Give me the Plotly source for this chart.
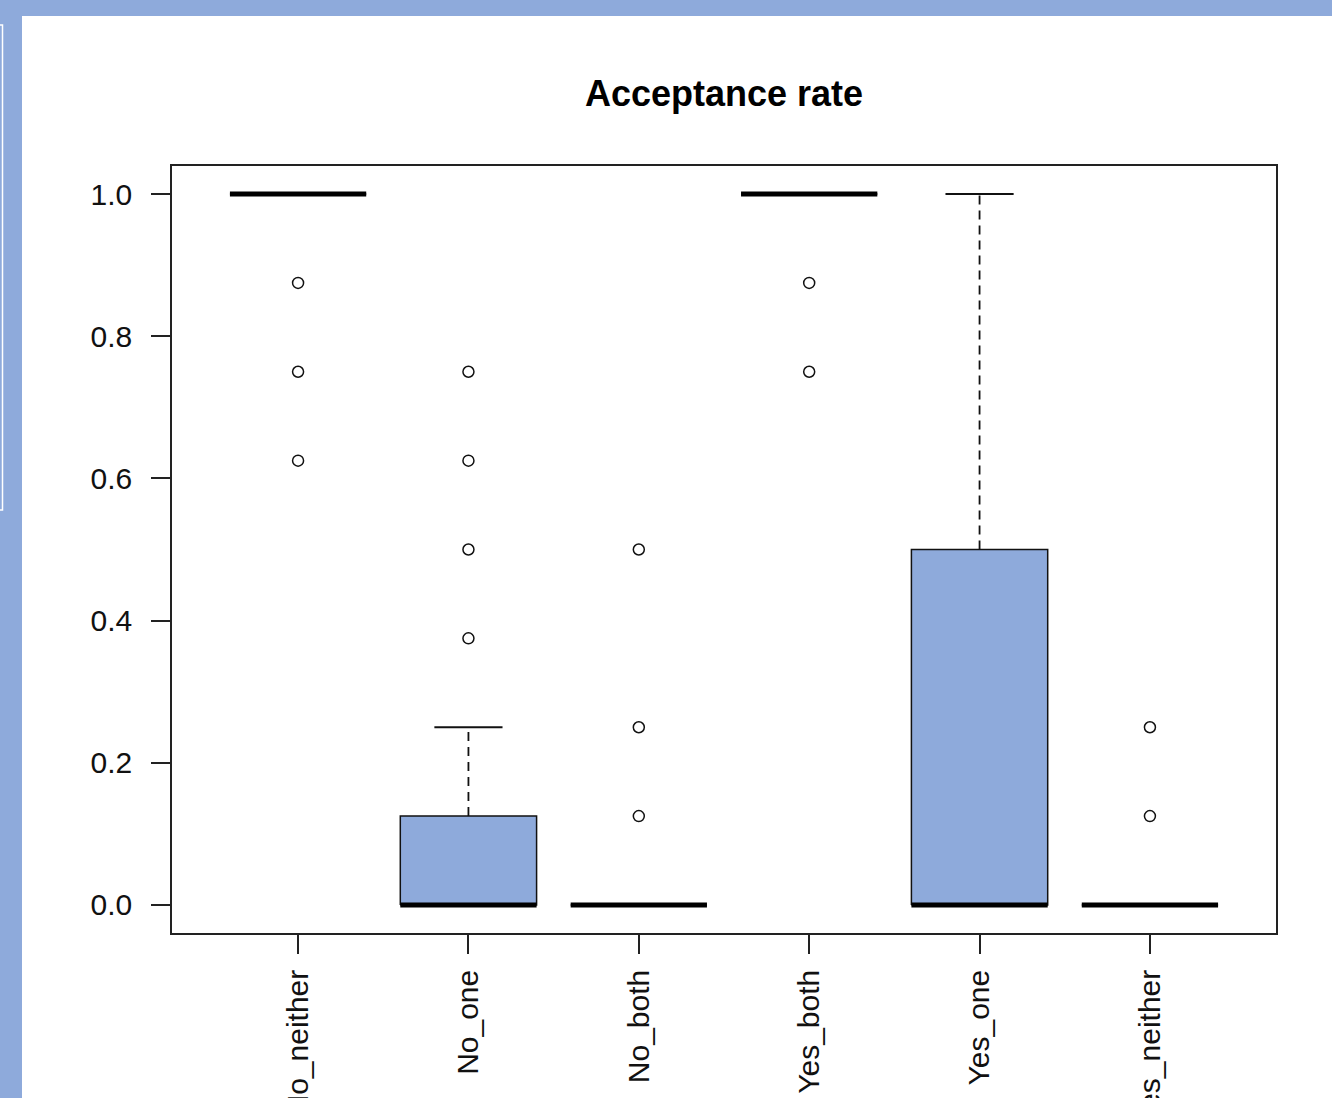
import plotly.graph_objects as go

# Acceptance rate by group: box statistics (R-style boxplot)
categories = ["No_neither", "No_one", "No_both", "Yes_both", "Yes_one", "Yes_neither"]
q1 = [1.0, 0.0, 0.0, 1.0, 0.0, 0.0]
medians = [1.0, 0.0, 0.0, 1.0, 0.0, 0.0]
q3 = [1.0, 0.125, 0.0, 1.0, 0.5, 0.0]
lower_whisker = [1.0, 0.0, 0.0, 1.0, 0.0, 0.0]
upper_whisker = [1.0, 0.25, 0.0, 1.0, 1.0, 0.0]
outliers = [
    [0.875, 0.75, 0.625],
    [0.75, 0.625, 0.5, 0.375],
    [0.5, 0.25, 0.125],
    [0.875, 0.75],
    [],
    [0.25, 0.125],
]
y_ticks = [0.0, 0.2, 0.4, 0.6, 0.8, 1.0]

BOX_FILL = "#8eaadb"
FONT = "Liberation Sans, Arial, sans-serif"
BOX_HALF = 0.4
CAP_HALF = 0.2

positions = list(range(1, len(categories) + 1))

fig = go.Figure()

# Boxes (q1..q3)
for p, lo, hi in zip(positions, q1, q3):
    fig.add_trace(go.Scatter(
        x=[p - BOX_HALF, p + BOX_HALF, p + BOX_HALF, p - BOX_HALF, p - BOX_HALF],
        y=[lo, lo, hi, hi, lo],
        mode="lines", fill="toself", fillcolor=BOX_FILL,
        line=dict(color="#111111", width=1.5),
        hoverinfo="skip", showlegend=False,
    ))

# Dashed whiskers
for p, lo, hi, wl, wh in zip(positions, q1, q3, lower_whisker, upper_whisker):
    for a, b in ((hi, wh), (wl, lo)):
        if b > a:
            fig.add_trace(go.Scatter(
                x=[p, p], y=[a, b], mode="lines",
                line=dict(color="#111111", width=1.8, dash="9px,6px"),
                hoverinfo="skip", showlegend=False,
            ))

# Whisker caps
for p, wl, wh in zip(positions, lower_whisker, upper_whisker):
    for w in (wl, wh):
        fig.add_trace(go.Scatter(
            x=[p - CAP_HALF, p + CAP_HALF], y=[w, w], mode="lines",
            line=dict(color="#111111", width=1.8),
            hoverinfo="skip", showlegend=False,
        ))

# Median lines
for p, m in zip(positions, medians):
    fig.add_trace(go.Scatter(
        x=[p - BOX_HALF, p + BOX_HALF], y=[m, m], mode="lines",
        line=dict(color="#000000", width=5),
        hoverinfo="skip", showlegend=False,
    ))

# Outlier points
out_x, out_y = [], []
for p, vals in zip(positions, outliers):
    out_x += [p] * len(vals)
    out_y += vals
fig.add_trace(go.Scatter(
    x=out_x, y=out_y, mode="markers",
    marker=dict(symbol="circle-open", size=11, color="#111111", line=dict(width=1.5)),
    hoverinfo="skip", showlegend=False,
))

W, H = 1332, 1098
L, R, T, B = 172, 56, 166, 165
pw, ph = W - L - R, H - T - B


def px_x(v):
    return (v - L) / pw


def px_y(v):
    return (H - B - v) / ph


# White page area inside the blue window frame
fig.add_shape(type="rect", xref="paper", yref="paper",
              x0=px_x(22), x1=px_x(W + 10), y0=px_y(H + 10), y1=px_y(16),
              fillcolor="white", line=dict(width=0), layer="below")
# Thin white outline at the left window edge
fig.add_shape(type="rect", xref="paper", yref="paper",
              x0=px_x(-6), x1=px_x(2.5), y0=px_y(510), y1=px_y(25),
              fillcolor="rgba(0,0,0,0)", line=dict(color="white", width=1.5), layer="below")

axis_common = dict(
    showline=True, linecolor="#222222", linewidth=1.5, mirror=True,
    ticks="outside", ticklen=19, tickwidth=1.5, tickcolor="#222222",
    showgrid=False, zeroline=False, automargin=False,
    tickfont=dict(family=FONT, size=30, color="#111111"),
)

fig.update_layout(
    template="none",
    width=W, height=H,
    margin=dict(l=L, r=R, t=T, b=B, pad=0),
    paper_bgcolor="#8eaadb",
    plot_bgcolor="white",
    title=dict(text="<b>Acceptance rate</b>", x=724 / W, xref="container",
               xanchor="center", y=1 - 93 / H, yref="container", yanchor="middle",
               font=dict(family=FONT, size=36, color="#000000")),
    xaxis=dict(range=[0.26, 6.74], tickmode="array", tickvals=positions, ticktext=categories,
               tickangle=-90, ticklabelstandoff=4, **axis_common),
    yaxis=dict(range=[-0.0394, 1.0394], tickmode="array", tickvals=y_ticks,
               ticktext=[f"{v:.1f}" for v in y_ticks], ticklabelstandoff=13, **axis_common),
    showlegend=False,
)

fig.write_html("out.html")
